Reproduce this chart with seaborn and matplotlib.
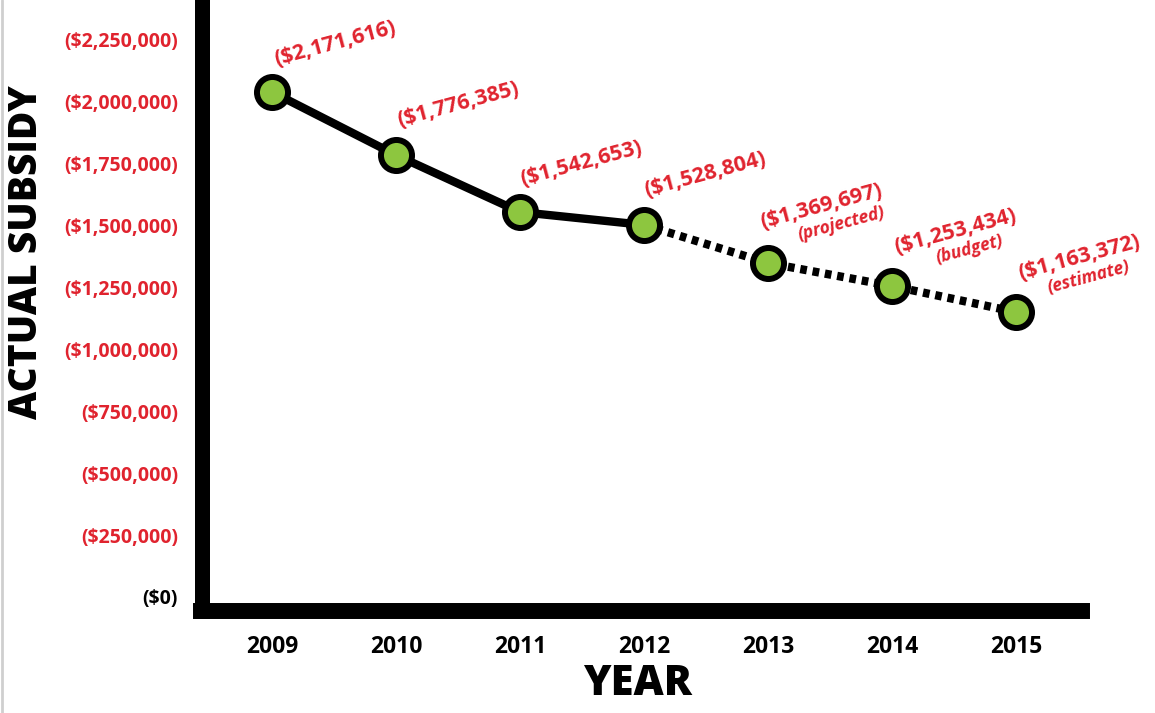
import matplotlib
matplotlib.use('Agg')
import matplotlib.pyplot as plt
import seaborn as sns
import pandas as pd

years = [2009, 2010, 2011, 2012, 2013, 2014, 2015]
# heights as drawn on the chart
subsidy = [2040000, 1785000, 1555000, 1503000, 1349000, 1256000, 1151000]
value_labels = ['($2,171,616)', '($1,776,385)', '($1,542,653)', '($1,528,804)',
                '($1,369,697)', '($1,253,434)', '($1,163,372)']
notes = ['', '', '', '', '(projected)', '(budget)', '(estimate)']
y_ticks = [0, 250000, 500000, 750000, 1000000, 1250000, 1500000, 1750000, 2000000, 2250000]

# label placement (pixels from point centre)
label_offsets = [(5, 22), (4, 24), (3, 22), (3, 24), (-5, 30), (5, 28), (5, 28)]
note_offsets = [None, None, None, None, (32, 19), (46, 19), (34, 16)]

RED = '#e0232e'
GREEN = '#8dc63f'

sns.set_style('white')
plt.rcParams['font.family'] = ['Open Sans', 'DejaVu Sans']
plt.rcParams['text.color'] = 'black'
plt.rcParams['axes.labelcolor'] = 'black'
plt.rcParams['xtick.color'] = 'black'
plt.rcParams['ytick.color'] = 'black'

df = pd.DataFrame({'year': years, 'subsidy': subsidy})
actual = df[df['year'] <= 2012]
future = df[df['year'] >= 2012]

W, H = 1155, 713
fig = plt.figure(figsize=(W / 100, H / 100), dpi=100)
ax = fig.add_axes([201.5 / W, 102 / H, 880.5 / W, 611 / H])

sns.lineplot(data=actual, x='year', y='subsidy', ax=ax, color='black',
             linewidth=6, solid_capstyle='butt', zorder=2)
sns.lineplot(data=future, x='year', y='subsidy', ax=ax, color='black',
             linewidth=6, linestyle=(0, (0.8, 0.7)), zorder=2)
sns.scatterplot(data=df, x='year', y='subsidy', ax=ax, s=500, color=GREEN,
                edgecolor='black', linewidth=4.3, zorder=5)

for yr, val, lab, off in zip(years, subsidy, value_labels, label_offsets):
    ax.annotate(lab, (yr, val), xytext=off, textcoords='offset pixels',
                rotation=15, rotation_mode='anchor', ha='left', va='bottom',
                fontsize=15.5, fontweight='bold', color=RED, zorder=6)

for yr, val, note, off in zip(years, subsidy, notes, note_offsets):
    if note:
        ax.annotate(note, (yr, val), xytext=off, textcoords='offset pixels',
                    rotation=15, rotation_mode='anchor', ha='left', va='bottom',
                    fontsize=12.5, fontweight='bold', fontstyle='italic', color=RED, zorder=6)

ax.set_xlim(2008.431, 2015.532)
ax.set_ylim(-56552, 2411536)

ax.set_xticks(years)
ax.set_xticklabels([str(y) for y in years], fontsize=16.5, fontweight='bold')
ax.set_yticks(y_ticks)
ax.set_yticklabels([f'(${v:,})' for v in y_ticks], fontsize=14, fontweight='bold')
for lbl in ax.get_yticklabels():
    lbl.set_color(RED)
ax.get_yticklabels()[0].set_color('black')
ax.tick_params(axis='both', length=0)
ax.tick_params(axis='y', pad=17)
ax.tick_params(axis='x', pad=17)

ax.set_xlabel('YEAR', fontsize=30, fontweight='heavy', va='center')
ax.xaxis.set_label_coords(0.4946, -0.1195)
ax.set_ylabel('ACTUAL SUBSIDY', fontsize=28, fontweight='heavy', va='center')
ax.yaxis.set_label_coords(-0.1982, 0.5876)

sns.despine(ax=ax)
ax.spines['left'].set_linewidth(10.8)
ax.spines['bottom'].set_linewidth(11.5)
for side in ['left', 'bottom']:
    ax.spines[side].set_color('black')
    ax.spines[side].set_capstyle('projecting')

# thin grey border on the left edge of the original image
fig.add_artist(plt.Line2D([0.0015, 0.0015], [0, 1], color='#cfcfcf', lw=2,
                          transform=fig.transFigure))

fig.savefig('out.png', dpi=100, facecolor='white')
